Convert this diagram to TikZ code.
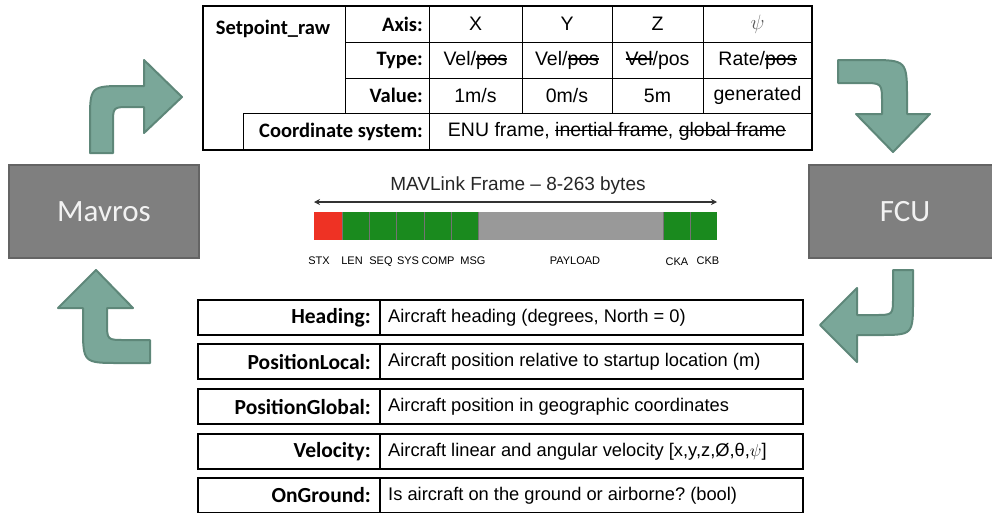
\documentclass[tikz,border=0pt]{standalone}
\usepackage{fontspec}
\setmainfont{Liberation Sans}
\newfontfamily\condfont{Carlito}
\usetikzlibrary{arrows.meta}
\frenchspacing

% a line drawn through a word that is struck out
\newcommand\strikeit[1]{\begingroup\setbox0\hbox{#1}\rlap{\raisebox{0.27em}{\rule{\wd0}{0.075em}}}\box0\endgroup}

\definecolor{arrowfill}{RGB}{122,167,153}
\definecolor{arrowline}{RGB}{94,135,121}
\definecolor{boxfill}{RGB}{127,127,127}
\definecolor{boxline}{RGB}{100,100,100}
\definecolor{stxred}{RGB}{238,50,36}
\definecolor{fieldgreen}{RGB}{26,138,30}
\definecolor{payloadgray}{RGB}{153,153,153}

\tikzset{
  bendarrow/.style={fill=arrowfill, draw=arrowline, line width=2, line join=round},
  procbox/.style={rectangle, fill=boxfill, draw=boxline, line width=2.2, inner sep=0,
                  text=white!95!black, font=\condfont\fontsize{31}{36}\selectfont},
  tlab/.style={anchor=east, inner sep=0, font=\condfont\bfseries\fontsize{20.5}{24}\selectfont},
  tval/.style={inner sep=0, font=\fontsize{19.5}{23}\selectfont},
  blab/.style={anchor=east, inner sep=0, font=\condfont\bfseries\fontsize{21.5}{25}\selectfont},
  bval/.style={anchor=west, inner sep=0, font=\fontsize{18.3}{22}\selectfont},
  cell/.style={draw=black!55, line width=0.6},
  flab/.style={anchor=base, inner sep=0, font=\fontsize{11}{13}\selectfont},
}

\begin{document}
\begin{tikzpicture}[x=1pt, y=-1pt]
\useasboundingbox (0,0) rectangle (992,512);

% ---------------- Setpoint_raw table ----------------
\draw[line width=1] (345,42) -- (812,42);
\draw[line width=1] (345,78) -- (812,78);
\draw[line width=1] (243,113) -- (812,113);
\draw[line width=1] (345,6) -- (345,113);
\draw[line width=1] (429,6) -- (429,150);
\draw[line width=1] (522,6) -- (522,113);
\draw[line width=1] (612,6) -- (612,113);
\draw[line width=1] (703,6) -- (703,113);
\draw[line width=1] (243,113) -- (243,150);
\draw[line width=2] (203,6) rectangle (812,150);

\node[inner sep=0, font=\condfont\bfseries\fontsize{20.5}{24}\selectfont] (sp) at (273,29) {Setpoint\_raw};
\node[tlab] (axis)  at (423,24)    {Axis:};
\node[tlab] (type)  at (423,60)    {Type:};
\node[tlab] (value) at (423,95.5)  {Value:};
\node[tlab] (coord) at (423,131.5) {Coordinate system:};

\node[tval] (ax) at (475.5,24) {X};
\node[tval] (ay) at (567,24)   {Y};
\node[tval] (az) at (657.5,24) {Z};
\node[tval, text=black!65] (apsi) at (757.5,24) {$\psi$};

\node[tval] (tx) at (475.5,60) {Vel/\strikeit{pos}};
\node[tval] (ty) at (567,60)   {Vel/\strikeit{pos}};
\node[tval] (tz) at (657.5,60) {\strikeit{Vel}/pos};
\node[tval] (tpsi) at (757.5,60) {Rate/\strikeit{pos}};

\node[tval] (vx) at (475.5,95.5) {1m/s};
\node[tval] (vy) at (567,95.5)   {0m/s};
\node[tval] (vz) at (657.5,95.5) {5m};
\node[tval] (vpsi) at (757.5,95.5) {generated};

\node[tval] (frame) at (617,131.5) {ENU frame, \strikeit{inertial frame}, \strikeit{global frame}};

% ---------------- end blocks ----------------
\node[procbox, minimum width=190, minimum height=93] (mavros) at (104,211.5) {Mavros};
\node[procbox, minimum width=192, minimum height=93] (fcu) at (905,211.5) {FCU};

% ---------------- curved arrows ----------------
% Mavros -> table (up, then right)
\draw[bendarrow] (90,153) -- (90,122) .. controls (90,86) .. (126,86) -- (144,86)
  -- (144,60) -- (182,97) -- (144,133) -- (144,107) -- (130,107)
  .. controls (113,107) .. (113,124) -- (113,153) -- cycle;
% table -> FCU (right, then down)
\draw[bendarrow] (838,60) -- (868,60) .. controls (907,60) .. (907,99) -- (907,114)
  -- (930,114) -- (893,152) -- (856,114) -- (882,114) -- (882,103)
  .. controls (882,83) .. (862,83) -- (838,83) -- cycle;
% FCU -> telemetry list (down, then left)
\draw[bendarrow] (913,270) -- (913,300) .. controls (913,335) .. (878,335) -- (857,335)
  -- (857,362) -- (820,325) -- (857,288) -- (857,315) -- (875,315)
  .. controls (893,315) .. (893,297) -- (893,270) -- cycle;
% telemetry list -> Mavros (left, then up)
\draw[bendarrow] (96,270) -- (133,308) -- (107,308) -- (107,322)
  .. controls (107,340) .. (125,340) -- (150,340) -- (150,363) -- (120,363)
  .. controls (83,363) .. (83,326) -- (83,308) -- (58,308) -- cycle;

% ---------------- MAVLink frame ----------------
\node[inner sep=0, font=\fontsize{19}{22}\selectfont, text=black!85] (title) at (518,186) {MAVLink Frame – 8-263 bytes};
\coordinate (fl) at (314,202);
\coordinate (fr) at (717,202);
\draw[{Stealth[length=6,width=6]}-{Stealth[length=6,width=6]}, line width=1.1, draw=black!80] (fl) -- (fr);

\fill[stxred] (314,212) rectangle (342,240);
\foreach \a/\b in {342/369, 369/396, 396/424, 424/451, 451/478, 663/690, 690/717}
  \fill[fieldgreen] (\a,212) rectangle (\b,240);
\fill[payloadgray] (478,212) rectangle (663,240);
\foreach \xx in {342,369,396,424,451,478,663,690}
  \draw[cell] (\xx,212) -- (\xx,240);

\node[flab] (stx)  at (319,264) {STX};
\node[flab] (len)  at (352,264) {LEN};
\node[flab] (seq)  at (381,264) {SEQ};
\node[flab] (sys)  at (408,264) {SYS};
\node[flab] (comp) at (438,264) {COMP};
\node[flab] (msg)  at (473,264) {MSG};
\node[flab] (pay)  at (575,264) {PAYLOAD};
\node[flab] (cka)  at (677,265) {CKA};
\node[flab] (ckb)  at (708,264) {CKB};

% ---------------- telemetry list ----------------
\foreach \t in {300,344,389,434,478} {
  \draw[line width=1.2] (198,\t) rectangle (803,\t+35);
  \draw[line width=2.8] (198,\t+35) -- (803,\t+35);
  \draw[line width=1.2] (380,\t) -- (380,\t+35);
}
\node[blab] (hdg)  at (371,317.5) {Heading:};
\node[blab] (pl)   at (371,362)   {PositionLocal:};
\node[blab] (pg)   at (371,407)   {PositionGlobal:};
\node[blab] (vel)  at (371,451.5) {Velocity:};
\node[blab] (gnd)  at (371,495.5) {OnGround:};

\node[bval] (hdgv) at (388,317.5) {Aircraft heading (degrees, North = 0)};
\node[bval] (plv)  at (388,362)   {Aircraft position relative to startup location (m)};
\node[bval] (pgv)  at (388,407)   {Aircraft position in geographic coordinates};
\node[bval] (velv) at (388,451.5) {Aircraft linear and angular velocity [x,y,z,Ø,θ,$\psi$]};
\node[bval] (gndv) at (388,495.5) {Is aircraft on the ground or airborne? (bool)};
\end{tikzpicture}
\end{document}
